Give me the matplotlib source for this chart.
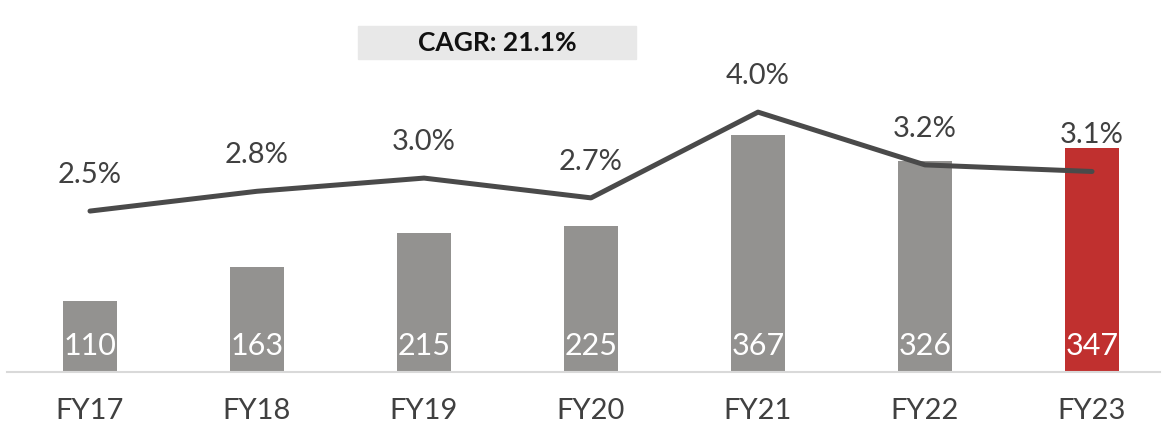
import numpy as np
import matplotlib.pyplot as plt
from matplotlib.patches import Rectangle

plt.rcParams['font.family'] = ['Lato', 'DejaVu Sans']

years = ['FY17', 'FY18', 'FY19', 'FY20', 'FY21', 'FY22', 'FY23']
revenue = [110, 163, 215, 225, 367, 326, 347]
margin = [2.5, 2.8, 3.0, 2.7, 4.0, 3.2, 3.1]
cagr_text = 'CAGR: 21.1%'

W, H = 1170, 429
fig = plt.figure(figsize=(W / 100, H / 100), dpi=100)

# axes box in pixels: left, right, top, baseline
left, right, top, base = 7, 1160, 0, 372
ax = fig.add_axes([left / W, (H - base) / H, (right - left) / W, (base - top) / H])

x = np.arange(len(years))
bar_colors = ['#939290'] * (len(years) - 1) + ['#c0302f']
ax.bar(x, revenue, width=0.32, color=bar_colors, zorder=2)
ax.set_xlim(-0.497, 6.407)
ax.set_ylim(0, 575)

for xi, v in zip(x, revenue):
    ax.text(xi, 40, f'{v}', ha='center', va='center', color='white',
            fontsize=22)

for s in ['top', 'right', 'left']:
    ax.spines[s].set_visible(False)
ax.spines['bottom'].set_color('#d9d9d9')
ax.spines['bottom'].set_linewidth(1.5)
ax.set_yticks([])
ax.set_xticks(x)
ax.set_xticklabels(years, fontsize=21, color='#404040')
ax.tick_params(axis='x', length=0, pad=19)

ax2 = ax.twinx()
ax2.set_ylim(0.06, 5.70)
ax2.axis('off')
ax2.plot(x, margin, color='#4a4a4a', linewidth=3.6, solid_capstyle='round', zorder=3)
for xi, m in zip(x, margin):
    ax2.annotate(f'{m:.1f}%', (xi, m), xytext=(0, 26), textcoords='offset points',
                 ha='center', va='center', fontsize=21, color='#404040')

# CAGR banner
fig.patches.append(Rectangle((358 / W, 1 - 59 / H), 278 / W, 33 / H,
                             transform=fig.transFigure, color='#e8e8e8', zorder=0))
fig.text(497 / W, 1 - 43 / H, cagr_text, ha='center', va='center',
         fontsize=19, fontweight='bold', color='#111111')

fig.savefig('out.png', dpi=100)
